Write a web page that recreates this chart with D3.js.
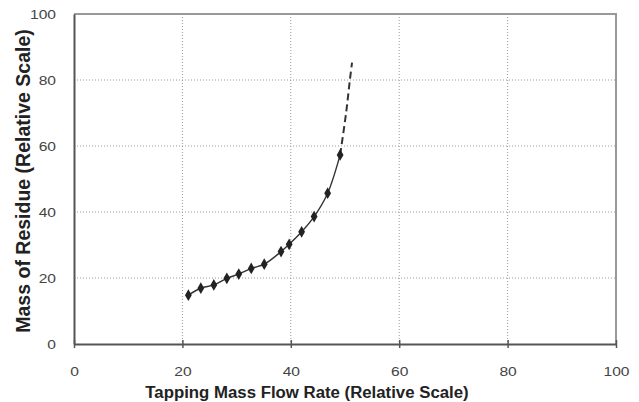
<!DOCTYPE html>
<html lang="en">
  <head>
    <meta charset="UTF-8" />
    <title>Residue vs Tapping Flow</title>
    <script src="https://d3js.org/d3.v7.min.js"></script>
    <style>
      body { margin: 0; background: #fff; }
      text { font-family: "Liberation Sans", Arial, sans-serif; }
    </style>
  </head>
  <body>
    <svg width="639" height="402"></svg>
    <script>
      // measured points (relative scale)
      const flowRate = [21.1, 23.4, 25.8, 28.2, 30.4, 32.7, 35.1, 38.2, 39.7, 42.0, 44.3, 46.8, 49.1];
      const residue = [14.8, 16.9, 17.9, 19.9, 21.2, 22.9, 24.2, 28.0, 30.2, 34.0, 38.6, 45.7, 57.3];
      // extrapolated (dashed) part
      const extFlow = [49.1, 50.2, 50.9, 51.3];
      const extResidue = [57.3, 70, 80, 85.3];
      const ticks = [0, 20, 40, 60, 80, 100];

      const svg = d3.select("svg");
      const plotL = 74, plotR = 616, plotT = 14, plotB = 344;
      const sx = 1.2; // labels in the source are a bit wide

      const x = d3.scaleLinear().domain([0, 100]).range([plotL, plotR]);
      const y = d3.scaleLinear().domain([0, 100]).range([plotB, plotT]);

      //grid
      const grid = svg.append("g");
      grid.selectAll(".gx").data(ticks.slice(1, -1)).enter().append("line")
        .attr("x1", d => x(d)).attr("x2", d => x(d))
        .attr("y1", plotT).attr("y2", plotB)
        .attr("stroke", "#999").attr("stroke-width", 1).attr("stroke-dasharray", "1,2");
      grid.selectAll(".gy").data(ticks.slice(1, -1)).enter().append("line")
        .attr("y1", d => y(d)).attr("y2", d => y(d))
        .attr("x1", plotL).attr("x2", plotR)
        .attr("stroke", "#999").attr("stroke-width", 1).attr("stroke-dasharray", "1,2");

      //frame
      svg.append("path")
        .attr("d", `M${plotL},${plotT}H${plotR}V${plotB}`)
        .attr("fill", "none").attr("stroke", "#999").attr("stroke-width", 2);

      //axes
      const xAxis = svg.append("g").attr("transform", `translate(0,${plotB})`)
        .call(d3.axisBottom(x).tickValues(ticks).tickSizeInner(4).tickSizeOuter(0).tickPadding(19));
      const yAxis = svg.append("g").attr("transform", `translate(${plotL},0)`)
        .call(d3.axisLeft(y).tickValues(ticks).tickSizeInner(5).tickSizeOuter(0).tickPadding(10));
      [xAxis, yAxis].forEach(g => {
        g.select(".domain").attr("stroke", "#555").attr("stroke-width", 2);
        g.selectAll(".tick line").attr("stroke", "#555").attr("stroke-width", 1.5);
        g.selectAll(".tick text").attr("font-size", 13).attr("fill", "#444")
          .style("font-family", "Liberation Sans, Arial, sans-serif")
          .attr("transform", `scale(${sx},1)`);
      });
      xAxis.selectAll(".tick line").attr("y1", -4);
      yAxis.selectAll(".tick line").attr("x2", 0);

      //curves
      const pts = flowRate.map((d, i) => [d, residue[i]]);
      const ext = extFlow.map((d, i) => [d, extResidue[i]]);
      const line = d3.line().x(d => x(d[0])).y(d => y(d[1])).curve(d3.curveCatmullRom);

      svg.append("path").datum(pts).attr("d", line)
        .attr("fill", "none").attr("stroke", "#333").attr("stroke-width", 1.4);
      svg.append("path").datum(ext).attr("d", line)
        .attr("fill", "none").attr("stroke", "#333").attr("stroke-width", 2)
        .attr("stroke-dasharray", "7,4");

      svg.append("g").selectAll("path").data(pts).enter().append("path")
        .attr("d", d3.symbol().type(d3.symbolDiamond).size(40))
        .attr("transform", d => `translate(${x(d[0])},${y(d[1])})`)
        .attr("fill", "#222");

      //titles
      svg.append("text")
        .attr("transform", "translate(307,398)")
        .attr("text-anchor", "middle").attr("font-size", 16.8).attr("font-weight", "bold")
        .attr("fill", "#222")
        .text("Tapping Mass Flow Rate (Relative Scale)");
      svg.append("text")
        .attr("transform", "translate(30,181) rotate(-90)")
        .attr("text-anchor", "middle").attr("font-size", 19.5).attr("font-weight", "bold")
        .attr("fill", "#222")
        .text("Mass of Residue (Relative Scale)");
    </script>
  </body>
</html>
